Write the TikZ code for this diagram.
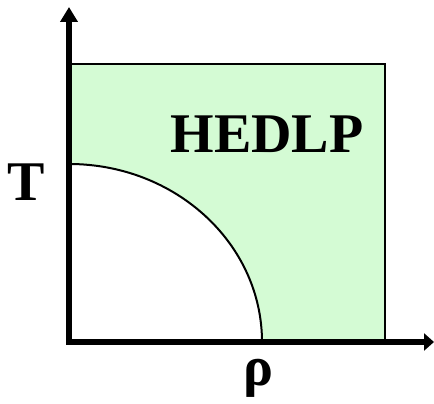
\documentclass[tikz,border=0pt]{standalone}
\usepackage{fontspec}
\setmainfont{Liberation Serif}
\newfontfamily\tnrbold{Liberation Serif Bold}
\usetikzlibrary{arrows.meta}
\definecolor{phase}{RGB}{212,251,212}
\tikzset{
  axis/.style={line width=5.5pt},
  lbl/.style={font=\tnrbold\fontsize{56}{60}\selectfont, inner sep=0pt, anchor=base},
}
\begin{document}
\begin{tikzpicture}[x=1pt,y=1pt]
\useasboundingbox (0,0) rectangle (434,404);
\coordinate (O) at (69,62);
\coordinate (ytip) at (69,397);
\coordinate (xtip) at (434,62);
\coordinate (rtop) at (385,340);
\coordinate (cT) at (69,240);
\coordinate (cR) at (262,62);
% green region
\fill[phase] (O) rectangle (rtop);
\draw[line width=1.5pt] (O |- rtop) -- (rtop) -- (rtop |- O);
% white quarter ellipse
\fill[white] (O) -- (cT) arc[start angle=90, end angle=0, x radius=193, y radius=178] -- cycle;
\draw[line width=2pt] (cT) arc[start angle=90, end angle=0, x radius=193, y radius=178];
% axes
\draw[axis, -{Triangle[length=15pt,width=17pt]}] (69,59.25) -- (ytip);
\draw[axis, -{Triangle[length=10pt,width=17pt]}] (66.25,62) -- (xtip);
% labels
\node[lbl] (hedlp) at (267,251) {HEDLP};
\node[lbl] (T) at (26.5,203) {T};
\node[lbl] (rho) at (258,18) {ρ};
\end{tikzpicture}
\end{document}
